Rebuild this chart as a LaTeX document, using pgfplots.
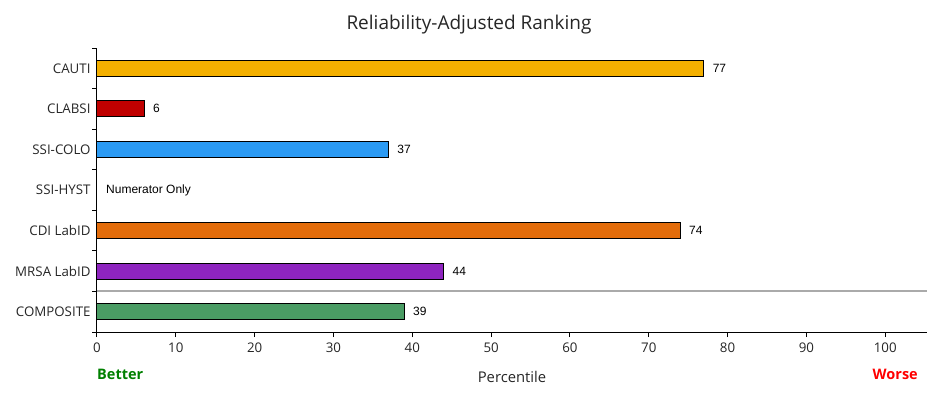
\documentclass[border=0pt]{standalone}
\usepackage{fontspec}
\setmainfont{Open Sans}
\newfontfamily\arialf{Liberation Sans}
\usepackage{pgfplots}
\pgfplotsset{compat=1.18}
\definecolor{cauti}{HTML}{F4B000}
\definecolor{clabsi}{HTML}{C00000}
\definecolor{ssicolo}{HTML}{2B9AF3}
\definecolor{cdi}{HTML}{E36C0A}
\definecolor{mrsa}{HTML}{8E24BF}
\definecolor{comp}{HTML}{4A9C64}
\definecolor{sep}{HTML}{AAAAAA}
\definecolor{txt}{HTML}{262626}
\begin{document}
\begin{tikzpicture}
\begin{axis}[
  at={(0,0)}, anchor=south west,
  scale only axis, width=830bp, height=284bp,
  xmin=0, xmax=105.3, ymin=-0.5, ymax=6.5, y dir=reverse,
  xbar, bar shift=0pt, bar width=0.4,
  axis x line*=bottom, axis y line*=left,
  axis line style={black, line width=1bp},
  xtick pos=bottom, ytick pos=left,
  tick align=outside, major tick length=5bp,
  tick style={black, line width=1bp},
  xtick={0,10,...,100},
  ytick={-0.5,0.5,...,6.5}, yticklabels={{},{},{},{},{},{},{},{}},
  extra y ticks={0,1,2,3,4,5,6},
  extra y tick labels={CAUTI,CLABSI,SSI-COLO,SSI-HYST,CDI LabID,MRSA LabID,COMPOSITE},
  extra y tick style={major tick length=0pt},
  /pgf/number format/assume math mode=true,
  tick label style={font=\fontsize{13.3bp}{15bp}\selectfont, text=txt},
  yticklabel style={xshift=-3bp},
  xticklabel style={yshift=-2bp},
  nodes near coords,
  every node near coord/.append style={font=\arialf\fontsize{12bp}{14bp}\selectfont, black, xshift=5bp},
  clip=false,
]
\addplot[fill=cauti, draw=black, line width=1bp] coordinates {(77,0)};
\addplot[fill=clabsi, draw=black, line width=1bp] coordinates {(6,1)};
\addplot[fill=ssicolo, draw=black, line width=1bp] coordinates {(37,2)};
\addplot[fill=cdi, draw=black, line width=1bp] coordinates {(74,4)};
\addplot[fill=mrsa, draw=black, line width=1bp] coordinates {(44,5)};
\addplot[fill=comp, draw=black, line width=1bp] coordinates {(39,6)};
\draw[sep, line width=2bp] (axis cs:0,5.5) -- (axis cs:105.3,5.5);
\node[anchor=west, font=\arialf\fontsize{12bp}{14bp}\selectfont, inner sep=0pt, xshift=9bp] at (axis cs:0,3) {Numerator Only};
\end{axis}
\node[font=\fontsize{19bp}{22bp}\selectfont, text=txt] at (372bp,307bp) {Reliability-Adjusted Ranking};
\node[font=\fontsize{14.8bp}{17bp}\selectfont, text=txt] at (415bp,-45bp) {Percentile};
\node[font=\bfseries\fontsize{14.5bp}{17bp}\selectfont, text={rgb,255:red,0;green,128;blue,0}, anchor=west, inner sep=0pt] at (0bp,-42bp) {Better};
\node[font=\bfseries\fontsize{14.5bp}{17bp}\selectfont, text=red, anchor=east, inner sep=0pt] at (821bp,-42bp) {Worse};
\path[use as bounding box] (-97bp,-61bp) rectangle (841bp,332bp);
\end{tikzpicture}
\end{document}
